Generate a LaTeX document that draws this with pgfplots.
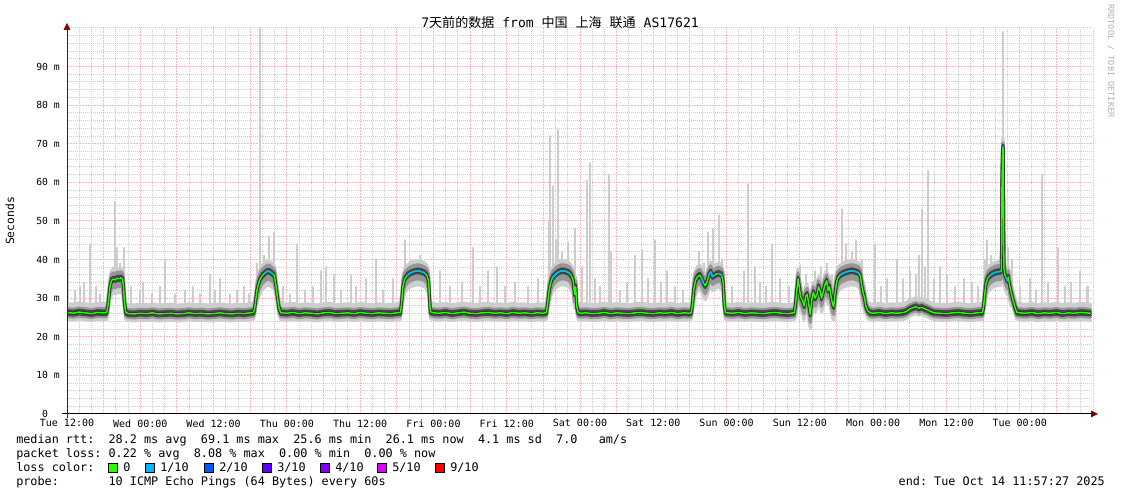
\documentclass[border=0pt]{standalone}
\usepackage{fontspec}
\setmainfont{DejaVu Sans Mono}[WordSpace={1,0,0}]
\newfontfamily\cjk{Noto Sans CJK SC}
\usepackage{pgfplots}
\pgfplotsset{compat=1.18}
\usepackage{pgfplotstable}

\definecolor{mgrid}{RGB}{246,188,188}
\definecolor{sgrid}{RGB}{205,205,205}
\definecolor{smokeA}{RGB}{205,205,205}
\definecolor{smokeB}{RGB}{150,150,150}
\definecolor{smokeC}{RGB}{70,70,70}
\definecolor{loss0}{HTML}{26FF00}
\definecolor{loss1}{HTML}{00B8FF}
\definecolor{loss2}{HTML}{0059FF}
\definecolor{loss3}{HTML}{5E00FF}
\definecolor{loss4}{HTML}{7E00FF}
\definecolor{loss5}{HTML}{DD00FF}
\definecolor{loss9}{HTML}{FF0000}
\definecolor{arrowred}{HTML}{7F0000}

% hours since Tue 12:00, median rtt (ms), loss flag (1/10), elevated flag
\pgfplotstableread{
h med loss hi
0 26.3 0 0
1 26.1 0 0
2 26.4 0 0
3 26.2 0 0
4 26.0 0 0
5 26.3 0 0
6 26.2 0 0
6.5 26.3 0 0
6.7 28.0 0 0
6.9 31.0 0 0
7.1 33.5 0 1
7.3 34.6 0 1
7.6 35.0 0 1
7.9 34.7 0 1
8.2 35.2 0 1
8.5 35.0 0 1
8.8 35.3 0 1
9.1 34.9 0 1
9.25 33.0 0 1
9.4 29.0 0 0
9.6 26.4 0 0
10 26.0 0 0
11 25.9 0 0
12 26.1 0 0
13 26.0 0 0
14 26.2 0 0
15 25.9 0 0
16 26.0 0 0
17 26.1 0 0
18 25.9 0 0
19 26.0 0 0
20 26.2 0 0
21 26.0 0 0
22 26.1 0 0
23 25.9 0 0
24 26.0 0 0
25 26.2 0 0
26 26.0 0 0
27 25.9 0 0
28 26.1 0 0
29 26.0 0 0
30 26.2 0 0
30.5 26.3 0 0
30.7 27.0 0 0
30.9 29.5 0 0
31.1 32.0 0 1
31.4 34.0 0 1
31.7 35.2 0 1
32.0 35.9 0 1
32.4 36.5 1 1
32.8 37.0 1 1
33.2 36.9 1 1
33.6 36.4 1 1
33.9 36.0 0 1
34.1 34.5 0 1
34.4 31.0 0 0
34.7 27.5 0 0
35.0 26.2 0 0
36 26.1 0 0
37 26.3 0 0
38 26.0 0 0
39 26.2 0 0
40 26.1 0 0
41 25.9 0 0
42 26.2 0 0
43 26.3 0 0
44 26.0 0 0
45 26.1 0 0
46 26.2 0 0
47 26.0 0 0
48 26.3 0 0
49 26.1 0 0
50 26.0 0 0
51 26.2 0 0
52 26.1 0 0
53 26.0 0 0
54 26.2 0 0
54.6 26.3 0 0
54.8 29.0 0 0
55.0 33.0 0 1
55.3 35.0 0 1
55.7 35.9 1 1
56.2 36.5 1 1
56.8 36.9 1 1
57.4 37.1 1 1
58.0 36.9 1 1
58.5 36.6 1 1
58.9 36.0 0 1
59.2 34.5 0 1
59.35 30.0 0 0
59.5 26.5 0 0
60 26.2 0 0
61 26.1 0 0
62 26.3 0 0
63 26.0 0 0
64 26.2 0 0
65 26.4 0 0
66 26.1 0 0
67 26.0 0 0
68 26.2 0 0
69 26.3 0 0
70 26.1 0 0
71 26.2 0 0
72 26.0 0 0
73 26.3 0 0
74 26.1 0 0
75 26.2 0 0
76 26.0 0 0
77 26.2 0 0
78 26.1 0 0
78.5 26.3 0 0
78.7 28.5 0 0
78.9 31.5 0 1
79.2 34.0 0 1
79.5 35.3 1 1
80.0 36.2 1 1
80.5 36.8 1 1
81.0 37.1 1 1
81.6 37.0 1 1
82.2 36.6 1 1
82.6 35.8 0 1
82.9 34.5 0 1
83.1 31.0 0 1
83.3 33.0 0 1
83.45 28.0 0 0
83.7 26.3 0 0
84 26.1 0 0
85 26.2 0 0
86 26.0 0 0
87 26.1 0 0
88 26.3 0 0
89 26.0 0 0
90 26.2 0 0
91 26.1 0 0
92 26.0 0 0
93 26.2 0 0
94 26.3 0 0
95 26.1 0 0
96 26.0 0 0
97 26.2 0 0
98 26.1 0 0
99 26.3 0 0
100 26.0 0 0
101 26.2 0 0
102 26.1 0 0
102.2 26.3 0 0
102.4 28.0 0 0
102.6 32.0 0 1
102.9 34.5 0 1
103.2 35.5 0 1
103.6 36.0 0 1
103.9 35.2 1 1
104.2 34.0 1 1
104.5 33.2 0 1
104.8 34.2 0 1
105.1 36.0 1 1
105.4 36.8 1 1
105.7 35.6 1 1
106.0 35.9 1 1
106.4 36.3 0 1
106.8 36.4 1 1
107.2 36.0 1 1
107.45 34.0 0 1
107.6 29.0 0 0
107.8 26.4 0 0
108 26.2 0 0
109 26.1 0 0
110 26.3 0 0
111 26.0 0 0
112 26.2 0 0
113 26.1 0 0
114 26.0 0 0
115 26.2 0 0
116 26.3 0 0
117 26.1 0 0
118 26.0 0 0
119 26.2 0 0
119.1 26.3 0 0
119.3 28.5 0 1
119.5 32.0 0 1
119.7 35.0 1 1
119.9 33.0 0 1
120.1 30.5 0 1
120.4 29.5 0 1
120.7 28.0 0 1
120.95 30.5 0 1
121.2 31.0 0 1
121.45 28.5 0 1
121.7 25.8 0 1
121.95 29.5 0 1
122.2 31.5 0 1
122.5 30.0 0 1
122.8 31.0 0 1
123.05 33.0 0 1
123.3 32.0 0 1
123.55 30.0 0 1
123.8 31.5 0 1
124.1 33.5 0 1
124.4 34.5 0 1
124.6 32.0 0 1
124.85 33.0 0 1
125.1 30.5 0 1
125.35 28.5 0 1
125.55 27.8 0 1
125.75 31.0 0 1
125.95 33.5 0 1
126.2 35.2 0 1
126.6 36.0 1 1
127.1 36.5 1 1
127.6 36.8 1 1
128.1 37.0 1 1
128.6 37.1 1 1
129.1 36.9 1 1
129.6 36.6 1 1
129.9 35.8 0 1
130.1 33.5 0 1
130.35 31.5 0 1
130.6 30.0 0 1
130.8 28.0 0 0
131.1 26.8 0 0
131.5 26.2 0 0
132 26.1 0 0
133 26.3 0 0
134 26.0 0 0
135 26.2 0 0
136 26.1 0 0
137 26.3 0 0
137.5 26.6 0 0
138 27.2 0 0
138.5 27.5 0 0
139 27.8 0 0
139.5 27.4 0 0
140 27.6 0 0
140.5 27.2 0 0
141 26.9 0 0
141.5 26.5 0 0
142 26.2 0 0
143 26.1 0 0
144 26.0 0 0
145 26.2 0 0
146 26.3 0 0
147 26.1 0 0
148 26.0 0 0
149 26.2 0 0
149.9 26.3 0 0
150.1 28.0 0 0
150.3 31.5 0 1
150.5 34.0 0 1
150.8 35.3 0 1
151.2 36.0 1 1
151.7 36.5 1 1
152.2 36.8 1 1
152.7 36.9 1 1
153.0 37.0 1 1
153.1 60.0 0 0
153.2 69.1 1 0
153.3 69.1 1 0
153.4 38.0 0 1
153.55 36.2 0 1
153.8 35.2 1 1
154.0 34.5 1 1
154.15 35.5 0 1
154.35 33.2 0 1
154.6 31.5 0 1
154.9 29.5 0 0
155.2 27.8 0 0
155.5 26.4 0 0
156 26.2 0 0
157 26.1 0 0
158 26.3 0 0
159 26.0 0 0
160 26.2 0 0
161 26.1 0 0
162 26.3 0 0
163 26.0 0 0
164 26.2 0 0
165 26.1 0 0
166 26.3 0 0
167.6 26.1 0 0
}\median

% outlier pings: hours, bottom and top of each grey streak (ms)
\pgfplotstableread{
h lo hi
0.2 27.5 40
1.3 27.5 32
2.1 27.5 33
2.8 27.5 34
3.8 27.5 44
4.7 27.5 33
5.4 27.5 31
7.5 36 38
7.9 36 55
8.2 36 43
8.7 36 39
9.3 30 43
10.5 27.5 33
12.0 27.5 32
12.4 27.5 34
13.9 27.5 31
15.2 27.5 33
16.0 27.5 40
17.7 27.5 31
19.3 27.5 32
20.6 27.5 33
21.8 27.5 31
23.4 27.5 36
24.2 27.5 32
25.1 27.5 35
26.7 27.5 31
27.8 27.5 32
29.0 27.5 33
29.8 27.5 31
31.1 32 39
31.6 32 100
32.3 37 41
33.1 37 46
33.9 37 47
35.4 27.5 33
36.5 27.5 31
37.7 27.5 44
39.0 27.5 32
40.3 27.5 33
41.6 27.5 37
42.4 27.5 38
43.7 27.5 36
44.9 27.5 32
46.5 27.5 36
47.3 27.5 33
49.0 27.5 35
50.6 27.5 40
51.7 27.5 32
53.4 27.5 35
55.3 36 45
56.3 37 40
57.8 37 41
61.1 27.5 37
62.7 27.5 33
64.7 27.5 34
66.5 27.5 43
67.6 27.5 33
68.9 27.5 37
70.4 27.5 38
71.7 27.5 33
73.4 27.5 34
75.5 27.5 33
77.1 27.5 35
78.9 31 50
79.1 33 72
79.6 36 59
80.1 37 45
80.4 37 73.5
81.1 37 42
82.0 37 44.5
83.2 30 48
84.3 27.5 38
85.1 27.5 60.5
85.6 27.5 65
86.5 27.5 35
87.3 27.5 33
88.8 27.5 62
89.1 27.5 42
90.6 27.5 32
91.7 27.5 34
93.0 27.5 41
94.2 27.5 42.5
95.1 27.5 35
96.3 27.5 45
97.3 27.5 34
98.2 27.5 37
99.6 27.5 33
100.9 27.5 32
103.5 36 42
104.3 34 39
105.0 36 47
105.8 37 48
106.8 37 51.5
107.3 36 40
108.9 27.5 33
110.9 27.5 37
111.5 27.5 59.5
112.7 27.5 38
113.5 27.5 34
114.5 27.5 33
115.4 27.5 44
116.8 27.5 35
118.2 27.5 33
120.0 31 38.5
121.0 31 36
122.5 31 37
123.5 32 38
124.4 34 39
125.3 30 36
126.9 37 53
127.6 37 44
128.5 37 42
129.2 37 45
130.2 34 40
132.3 27.5 44
133.3 27.5 33
134.3 27.5 35
135.9 27.5 40
136.9 27.5 35
138.0 28 37
139.0 28.5 36
139.5 28.5 41
140.0 28.5 53
140.5 28.5 38
141.0 28 63
142.0 27.5 35
142.9 27.5 38
144.1 27.5 36
145.4 27.5 33
146.9 27.5 35
148.2 27.5 34
149.2 27.5 33
150.3 32 40
150.6 34 45
151.3 37 41
151.9 37 39
153.3 38 99
154.1 35 43
154.7 32 40
156.0 27.5 33
157.7 27.5 35
158.7 27.5 32
159.6 27.5 62
160.6 27.5 34
162.3 27.5 43
163.4 27.5 33
164.4 27.5 34
165.9 27.5 37
167.1 27.5 33
}\spikes

\begin{document}
\begin{tikzpicture}
\begin{scope}[x=0.75pt,y=0.75pt]
  \path[use as bounding box] (0,0) rectangle (1121,494);
\end{scope}

\begin{axis}[
    at={(50.25pt,61.5pt)}, anchor=south west,
    scale only axis,
    width=769.5pt, height=289.5pt,
    xmin=0, xmax=168, ymin=0, ymax=100,
    axis line style={draw=none},
    major tick length=0pt, minor tick length=0pt,
    xtick={0,6,...,162},
    xticklabels={Tue 12:00,,Wed 00:00,,Wed 12:00,,Thu 00:00,,Thu 12:00,,Fri 00:00,,Fri 12:00,,Sat 00:00,,Sat 12:00,,Sun 00:00,,Sun 12:00,,Mon 00:00,,Mon 12:00,,Tue 00:00,},
    minor xtick={2,4,8,10,14,16,20,22,26,28,32,34,38,40,44,46,50,52,56,58,62,64,68,70,74,76,80,82,86,88,92,94,98,100,104,106,110,112,116,118,122,124,128,130,134,136,140,142,146,148,152,154,158,160,164,166,168},
    ytick={0,10,...,90},
    yticklabels={0\hphantom{~m},10~m,20~m,30~m,40~m,50~m,60~m,70~m,80~m,90~m},
    minor ytick={2,4,6,8,12,14,16,18,22,24,26,28,32,34,36,38,42,44,46,48,52,54,56,58,62,64,66,68,72,74,76,78,82,84,86,88,92,94,96,98,100},
    xticklabel style={font=\fontsize{7.5}{9}\selectfont, inner sep=0pt, yshift=-4pt},
    yticklabel style={font=\fontsize{7.3}{9}\selectfont, inner sep=0pt, xshift=-5.25pt},
    xmajorgrids, ymajorgrids, xminorgrids, yminorgrids,
    major grid style={draw=mgrid, line width=0.75pt, dash pattern=on 1.5pt off 0.75pt},
    minor grid style={draw=sgrid, line width=0.75pt, dash pattern=on 0.75pt off 0.75pt},
    unbounded coords=jump,
    every axis plot/.append style={line join=round, line cap=round, no marks},
]

% outlier streaks
\addplot[smokeA, line width=1.6pt,
    quiver={u=0, v=\thisrow{hi}-\thisrow{lo}}]
    table[x=h, y=lo] {\spikes};

% smoke: the median trace smeared vertically in grey layers
\pgfplotsinvokeforeach{-14,-12,...,10}{
  \addplot[smokeA, line width=2.25pt,
      restrict expr to domain={\thisrow{hi}}{0.5:1.5}, yshift=#1*0.75pt]
      table[x=h, y=med] {\median};
}
\pgfplotsinvokeforeach{-7,-5,...,9}{
  \addplot[smokeA, line width=2.25pt, yshift=#1*0.75pt]
      table[x=h, y=med] {\median};
}
\pgfplotsinvokeforeach{-8,-6,...,6}{
  \addplot[smokeB, line width=2.25pt,
      restrict expr to domain={\thisrow{hi}}{0.5:1.5}, yshift=#1*0.75pt]
      table[x=h, y=med] {\median};
}
\pgfplotsinvokeforeach{-4,-2,...,4}{
  \addplot[smokeB, line width=2.25pt, yshift=#1*0.75pt]
      table[x=h, y=med] {\median};
}
\pgfplotsinvokeforeach{-2,0,2}{
  \addplot[smokeC, line width=2pt, yshift=#1*0.75pt]
      table[x=h, y=med] {\median};
}

% median rtt, coloured by loss
\addplot[black!90, line width=1.8pt]
    table[x=h, y=med] {\median};
\addplot[loss0, line width=1.1pt]
    table[x=h, y=med] {\median};
\addplot[loss1, line width=1.3pt,
    restrict expr to domain={\thisrow{loss}}{0.5:1.5}]
    table[x=h, y=med] {\median};
\end{axis}

\begin{scope}[x=0.75pt,y=0.75pt]
  % axes with arrow heads
  \draw[black, line width=0.75pt] (62,82) -- (1092,82);
  \draw[black!85, line width=0.75pt] (67,78) -- (67,467);
  \fill[arrowred] (1098,82) -- (1091,85.5) -- (1091,78.5) -- cycle;
  \fill[arrowred] (67,473) -- (63.5,466) -- (70.5,466) -- cycle;

  % title and side texts
  \node[font=\fontsize{9.8}{12}\selectfont] at (560,473)
    {7{\cjk 天前的数据} from {\cjk 中国} {\cjk 上海} {\cjk 联通} AS17621};
  \node[rotate=90, font=\fontsize{8.5}{10}\selectfont] at (10,275) {Seconds};
  \node[rotate=-90, font=\fontsize{6.4}{8}\selectfont, text=black!30] at (1111,435)
    {RRDTOOL / TOBI OETIKER};

  % legend block
  \begin{scope}[every node/.style={inner sep=0pt, font=\fontsize{8.85}{10}\selectfont}]
    \node[anchor=base west] at (16,52)
      {median~rtt:~~28.2~ms~avg~~69.1~ms~max~~25.6~ms~min~~26.1~ms~now~~4.1~ms~sd~~7.0~~~am/s};
    \node[anchor=base west] at (16,38)
      {packet~loss:~0.22~\%~avg~~8.08~\%~max~~0.00~\%~min~~0.00~\%~now};
    \node[anchor=base west] at (16,24) {loss~color:};
    \node[anchor=base west] at (16,10)
      {probe:~~~~~~~10~ICMP~Echo~Pings~(64~Bytes)~every~60s};
    \node[anchor=base east] at (1105,10) {end:~Tue~Oct~14~11:57:27~2025};

    \filldraw[fill=loss0, draw=black, line width=0.75pt] (108,23.5) rectangle (117,32.5);
    \node[anchor=base west] at (123,24) {0};
    \filldraw[fill=loss1, draw=black, line width=0.75pt] (145,23.5) rectangle (154,32.5);
    \node[anchor=base west] at (160,24) {1/10};
    \filldraw[fill=loss2, draw=black, line width=0.75pt] (204,23.5) rectangle (213,32.5);
    \node[anchor=base west] at (219,24) {2/10};
    \filldraw[fill=loss3, draw=black, line width=0.75pt] (262,23.5) rectangle (271,32.5);
    \node[anchor=base west] at (277,24) {3/10};
    \filldraw[fill=loss4, draw=black, line width=0.75pt] (320,23.5) rectangle (329,32.5);
    \node[anchor=base west] at (335,24) {4/10};
    \filldraw[fill=loss5, draw=black, line width=0.75pt] (377,23.5) rectangle (386,32.5);
    \node[anchor=base west] at (392,24) {5/10};
    \filldraw[fill=loss9, draw=black, line width=0.75pt] (435,23.5) rectangle (444,32.5);
    \node[anchor=base west] at (450,24) {9/10};
  \end{scope}
\end{scope}
\end{tikzpicture}
\end{document}
